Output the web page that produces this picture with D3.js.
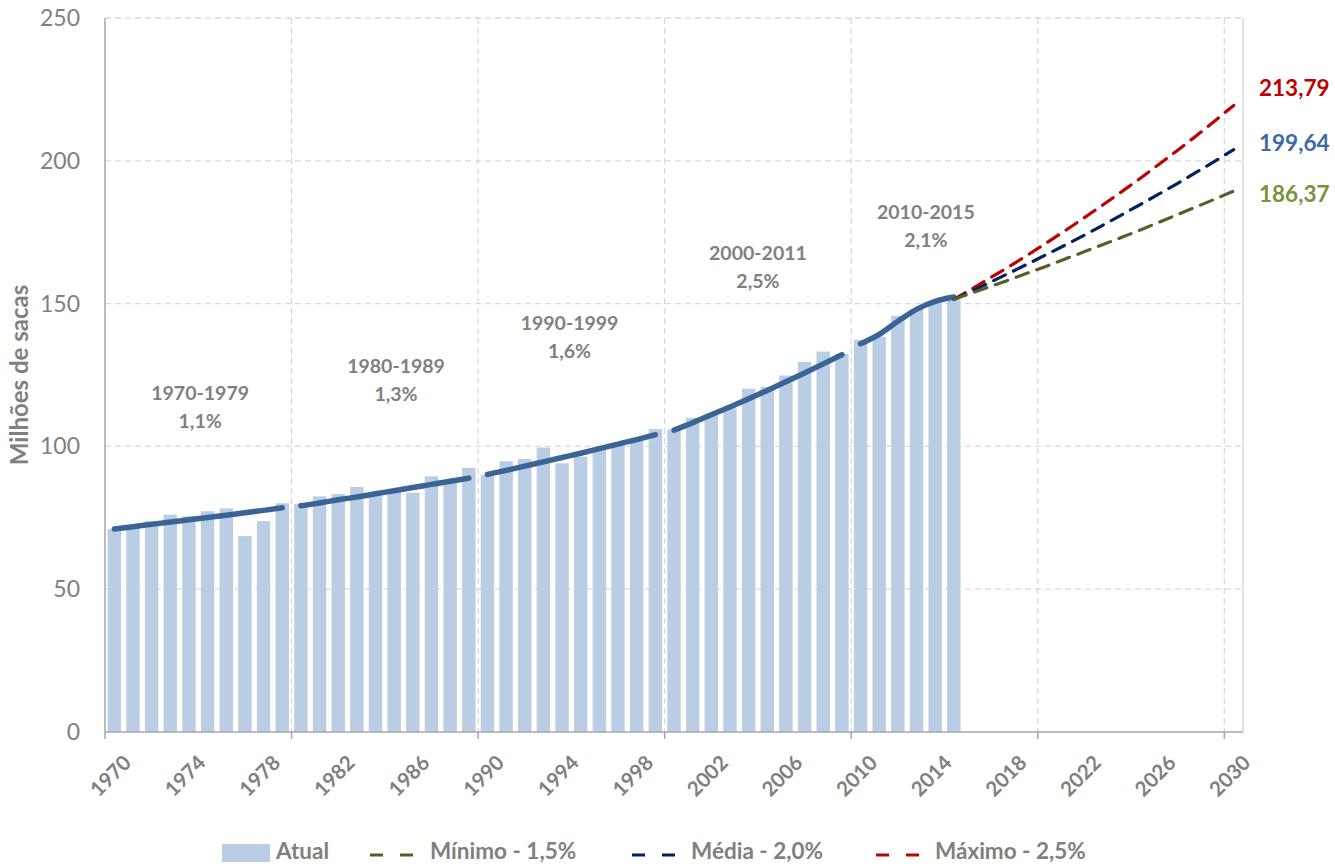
<!DOCTYPE html>
<html><head><meta charset="utf-8">
<script src="https://cdn.jsdelivr.net/npm/d3@7"></script>
<style>
html,body{margin:0;padding:0;background:#fff;}
svg{display:block;font-family:Lato, "Open Sans", sans-serif;}
</style></head>
<body>
<svg id="chart" width="1335" height="867"></svg>
<script>
// ---- data ----
const categories = d3.range(1970, 2031);
const actualYears = d3.range(1970, 2016);
const actualValues = [71.0,71.8,73.9,76.1,75.5,77.3,78.3,68.6,73.8,80.1,
  79.8,82.5,83.3,85.8,83.2,84.1,83.8,89.5,87.3,92.5,
  90.0,94.8,95.6,99.6,94.1,96.4,99.2,100.5,102.2,106.1,
  105.9,110.0,111.5,113.3,120.2,120.9,124.8,129.6,133.2,132.4,
  137.3,138.4,145.7,148.0,150.6,151.8];
const trend1970 = [71.1,71.9,72.7,73.5,74.3,75.1,75.9,76.8,77.6,78.5];
const trend1980 = [79.2,80.2,81.3,82.3,83.4,84.5,85.6,86.7,87.8,88.9];
const trend1990 = [90.2,91.6,93.1,94.6,96.1,97.6,99.2,100.8,102.4,104.1];
const trend2000 = [105.7,108.3,111.1,113.8,116.7,119.6,122.6,125.7,128.9,132.1];
const trend2010 = [135.9,139.2,143.8,148.0,150.8,152.3];
const projYears = d3.range(2015, 2031);
const projMin = [151.5,153.8,156.1,158.4,160.8,163.2,165.7,168.2,170.7,173.2,175.8,178.5,181.2,183.9,186.6,189.4];
const projMid = [151.5,154.5,157.6,160.8,164.0,167.3,170.6,174.0,177.5,181.1,184.7,188.4,192.1,196.0,199.9,203.9];
const projMax = [151.5,155.3,159.2,163.1,167.2,171.4,175.7,180.1,184.6,189.2,193.9,198.8,203.7,208.8,214.0,219.4];
const periodLabels = ["1970-1979","1980-1989","1990-1999","2000-2011","2010-2015"];
const periodRates = ["1,1%","1,3%","1,6%","2,5%","2,1%"];
const periodYears = [1974.6, 1985.1, 1994.4, 2004.5, 2013.5];
const periodLevels = [116.2, 125.8, 140.6, 165.1, 179.5];
const endLabels = ["213,79","199,64","186,37"];
const endLabelLevels = [225.6, 206.1, 188.4];
const yTicks = [0,50,100,150,200,250];
const xLabelYears = d3.range(1970, 2031, 4);
const gridYears = d3.range(1970, 2031, 10);
const legendNames = ["Atual","Mínimo - 1,5%","Média - 2,0%","Máximo - 2,5%"];

// ---- layout ----
const L = 105, R = 1243, T = 18, B = 732;
const svg = d3.select("#chart");
const x = d3.scaleBand().domain(categories).range([L, R]).paddingInner(0.28).paddingOuter(0.14);
const step = x.step();
const cx = yr => x(Math.floor(yr)) + x.bandwidth()/2 + (yr - Math.floor(yr))*step;
const bx = yr => L + (yr - 1970) * step; // category boundary
const y = d3.scaleLinear().domain([0, 250]).range([B, T]);

const gray = "#808080";
// gridlines
svg.append("g").selectAll("line").data(yTicks.filter(d=>d>0)).join("line")
  .attr("x1", L).attr("x2", R).attr("y1", d=>y(d)).attr("y2", d=>y(d))
  .attr("stroke", "#d9d9d9").attr("stroke-width", 1.3).attr("stroke-dasharray", "6,4");
svg.append("g").selectAll("line").data(gridYears.slice(1)).join("line")
  .attr("x1", d=>bx(d)).attr("x2", d=>bx(d)).attr("y1", T).attr("y2", B)
  .attr("stroke", "#d9d9d9").attr("stroke-width", 1.3).attr("stroke-dasharray", "6,4");
svg.append("line").attr("x1", R).attr("x2", R).attr("y1", T).attr("y2", B)
  .attr("stroke", "#d9d9d9").attr("stroke-width", 1.5);

// bars
svg.append("g").selectAll("rect").data(actualYears).join("rect")
  .attr("x", d=>x(d)).attr("width", x.bandwidth())
  .attr("y", (d,i)=>y(actualValues[i])).attr("height", (d,i)=>B - y(actualValues[i]))
  .attr("fill", "#b9cde5");

// axes
svg.append("line").attr("x1", L).attr("x2", L).attr("y1", T).attr("y2", B).attr("stroke", "#a6a6a6").attr("stroke-width", 1.5);
svg.append("line").attr("x1", L).attr("x2", R).attr("y1", B).attr("y2", B).attr("stroke", "#a6a6a6").attr("stroke-width", 1.5);
svg.append("g").selectAll("line").data(gridYears).join("line")
  .attr("x1", d=>bx(d)).attr("x2", d=>bx(d)).attr("y1", B).attr("y2", B+7)
  .attr("stroke", "#a6a6a6").attr("stroke-width", 1.5);

svg.append("g").selectAll("text").data(yTicks).join("text")
  .attr("x", 80).attr("y", d=>y(d)).attr("dy", "0.35em").attr("text-anchor", "end")
  .attr("fill", gray).attr("font-size", 23).text(d=>d);

svg.append("g").selectAll("text").data(xLabelYears).join("text")
  .attr("transform", d=>`translate(${cx(d)+13},${B+27}) rotate(-45)`)
  .attr("text-anchor", "end").attr("dy", "0.35em")
  .attr("fill", gray).attr("font-size", 20.5).attr("font-weight", "bold").text(d=>d);

svg.append("text").attr("transform", `translate(20,375) rotate(-90)`)
  .attr("text-anchor", "middle").attr("dy", "0.35em").attr("fill", gray).attr("font-size", 24).attr("font-weight", "bold")
  .text("Milhões de sacas");

// trend lines
const trendColor = "#3a6496";
const segs = [[1970, trend1970],[1980, trend1980],[1990, trend1990],[2000, trend2000],[2010, trend2010]];
segs.forEach(([start, vals]) => {
  const line = d3.line().x((d,i)=>cx(start+i)).y(d=>y(d)).curve(d3.curveMonotoneX);
  svg.append("path").attr("d", line(vals)).attr("fill", "none")
    .attr("stroke", trendColor).attr("stroke-width", 5.5).attr("stroke-linecap", "round");
});

// projections
const projColors = ["#c00000", "#002060", "#4f6228"];
const projSeries = [projMax, projMid, projMin];
const pline = d3.line().x((d,i)=>cx(projYears[i])).y(d=>y(d));
projSeries.forEach((vals, k) => {
  svg.append("path").attr("d", pline(vals)).attr("fill", "none")
    .attr("stroke", projColors[k]).attr("stroke-width", 3.2)
    .attr("stroke-dasharray", "13,9").attr("stroke-linecap", "round");
});

// period labels
periodLabels.forEach((t, i) => {
  const g = svg.append("text").attr("x", cx(periodYears[i])).attr("y", y(periodLevels[i]))
    .attr("text-anchor", "middle").attr("fill", gray).attr("font-size", 19.5).attr("font-weight", "bold");
  g.append("tspan").attr("x", cx(periodYears[i])).attr("dy", 0).text(t);
  g.append("tspan").attr("x", cx(periodYears[i])).attr("dy", 28).text(periodRates[i]);
});

// end labels
const endColors = ["#c00000", "#3e6aa5", "#77933c"];
endLabels.forEach((t, i) => {
  svg.append("text").attr("x", 1259).attr("y", y(endLabelLevels[i])).attr("dy", "0.35em")
    .attr("fill", endColors[i]).attr("font-size", 22.5).attr("font-weight", "bold").text(t);
});

// legend
const legY = 851;
const lg = svg.append("g");
lg.append("rect").attr("x", 222).attr("y", legY-7).attr("width", 48).attr("height", 18).attr("fill", "#b9cde5");
const legX = [276, 430, 691, 935];
const legLineX = [null, 370, 632, 876];
const legColors = [null, "#4f6228", "#002060", "#c00000"];
legendNames.forEach((n, i) => {
  if (i > 0) {
    lg.append("line").attr("x1", legLineX[i]).attr("x2", legLineX[i]+43).attr("y1", legY+4).attr("y2", legY+4)
      .attr("stroke", legColors[i]).attr("stroke-width", 3.2).attr("stroke-dasharray", "13,17");
  }
  lg.append("text").attr("x", legX[i]).attr("y", legY).attr("dy", "0.35em")
    .attr("fill", gray).attr("font-size", 22.5).attr("font-weight", "bold").text(n);
});
</script>
</body></html>
